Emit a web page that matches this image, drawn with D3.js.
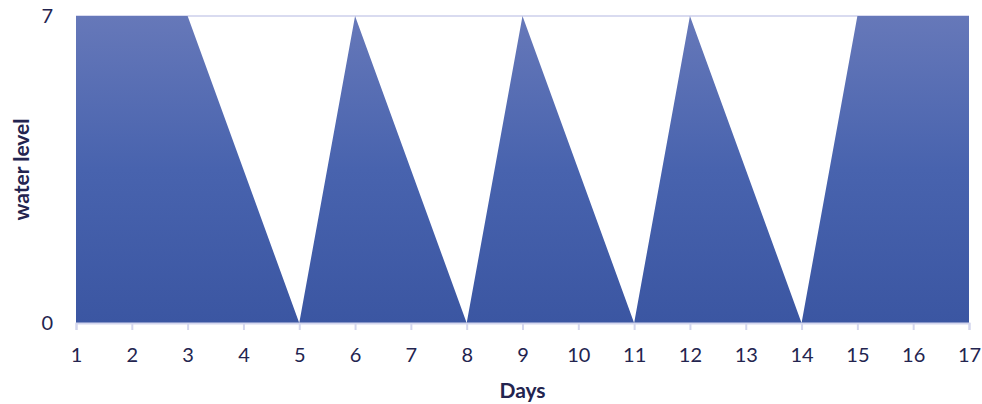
<!DOCTYPE html>
<html>
<head>
<meta charset="utf-8">
<script src="https://cdn.jsdelivr.net/npm/d3@7"></script>
<style>
  html, body { margin: 0; padding: 0; background: #fff; }
  svg text { font-family: Lato, "Open Sans", "Liberation Sans", sans-serif; fill: #23244f; }
</style>
</head>
<body>
<svg id="chart" width="982" height="404"></svg>
<script>
// Daily water level readings
const days = [1, 2, 3, 4, 5, 6, 7, 8, 9, 10, 11, 12, 13, 14, 15, 16, 17];
const waterLevel = [7, 7, 7, 3.5, 0, 7, 3.5, 0, 7, 3.5, 0, 7, 3.5, 0, 7, 7, 7];
const yTicks = [0, 7];

const svg = d3.select("#chart");
const margin = { left: 76, right: 13, top: 16, bottom: 81 };
const W = 982, H = 404;

const x = d3.scaleLinear().domain([1, 17]).range([margin.left, W - margin.right]);
const y = d3.scaleLinear().domain([0, 7]).range([H - margin.bottom, margin.top]);

const defs = svg.append("defs");
const grad = defs.append("linearGradient")
  .attr("id", "fillGrad").attr("x1", 0).attr("y1", 0).attr("x2", 0).attr("y2", 1);
grad.append("stop").attr("offset", "0%").attr("stop-color", "#6678b9");
grad.append("stop").attr("offset", "50%").attr("stop-color", "#4863ae");
grad.append("stop").attr("offset", "100%").attr("stop-color", "#3b56a2");

// Gridline at the top value
svg.append("g")
  .selectAll("line").data(yTicks.filter(d => d !== 0)).join("line")
  .attr("x1", x(1)).attr("x2", x(17))
  .attr("y1", d => y(d)).attr("y2", d => y(d))
  .attr("stroke", "#d9dbf0").attr("stroke-width", 2);

const data = days.map((d, i) => ({ day: d, level: waterLevel[i] }));
const area = d3.area()
  .x(d => x(d.day))
  .y0(y(0))
  .y1(d => y(d.level));

svg.append("path")
  .datum(data)
  .attr("d", area)
  .attr("fill", "url(#fillGrad)");

// X axis
const xAxis = d3.axisBottom(x).tickValues(days).tickSize(7).tickPadding(18).tickFormat(d3.format("d"));
const gx = svg.append("g").attr("transform", `translate(0,${y(0)})`).call(xAxis);
gx.select(".domain").attr("stroke", "#d3d6ee").attr("stroke-width", 2);
gx.selectAll(".tick line").attr("stroke", "#d3d6ee").attr("stroke-width", 2);
gx.selectAll(".tick text").attr("font-size", 20).style("fill", "#23244f");

// Y axis labels
const yAxis = d3.axisLeft(y).tickValues(yTicks).tickSize(0).tickPadding(23).tickFormat(d3.format("d"));
const gy = svg.append("g").attr("transform", `translate(${margin.left},0)`).call(yAxis);
gy.select(".domain").remove();
gy.selectAll(".tick text").attr("font-size", 20).style("fill", "#23244f");

// Axis titles
svg.append("text")
  .attr("x", (x(1) + x(17)) / 2).attr("y", 398)
  .attr("text-anchor", "middle")
  .attr("font-size", 21).attr("font-weight", "bold")
  .text("Days");

svg.append("text")
  .attr("transform", `translate(29,${(y(0) + y(7)) / 2}) rotate(-90)`)
  .attr("text-anchor", "middle")
  .attr("font-size", 21).attr("font-weight", "bold")
  .text("water level");
</script>
</body>
</html>
